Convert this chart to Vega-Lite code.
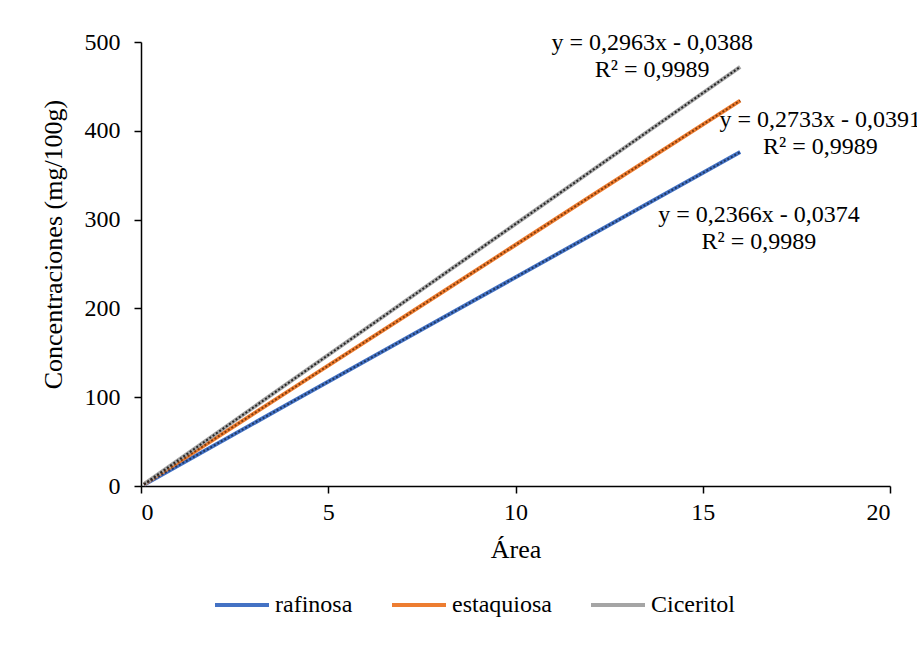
{
  "$schema": "https://vega.github.io/schema/vega-lite/v6.json",
  "autosize": {"type": "none"},
  "width": 749,
  "height": 444,
  "padding": {"left": 141, "top": 42, "right": 27, "bottom": 166},
  "background": "white",
  "config": {
    "view": {"stroke": null},
    "font": "Liberation Serif",
    "axis": {
      "grid": false,
      "domainColor": "black",
      "domainWidth": 1.5,
      "tickColor": "black",
      "tickWidth": 1.5,
      "tickSize": 7,
      "labelFont": "Liberation Serif",
      "labelFontSize": 24,
      "labelColor": "black",
      "titleFont": "Liberation Serif",
      "titleFontSize": 26,
      "titleFontWeight": "normal",
      "titleColor": "black"
    },
    "legend": {
      "labelFont": "Liberation Serif",
      "labelFontSize": 24,
      "labelColor": "black"
    }
  },
  "datasets": {
    "series": [
      {"area": 0.08, "conc": 1.5, "azucar": "rafinosa"},
      {"area": 4, "conc": 94, "azucar": "rafinosa"},
      {"area": 8, "conc": 188, "azucar": "rafinosa"},
      {"area": 12, "conc": 282, "azucar": "rafinosa"},
      {"area": 16, "conc": 376, "azucar": "rafinosa"},
      {"area": 0.08, "conc": 1.8, "azucar": "estaquiosa"},
      {"area": 4, "conc": 108.5, "azucar": "estaquiosa"},
      {"area": 8, "conc": 217, "azucar": "estaquiosa"},
      {"area": 12, "conc": 326, "azucar": "estaquiosa"},
      {"area": 16, "conc": 434, "azucar": "estaquiosa"},
      {"area": 0.08, "conc": 2, "azucar": "Ciceritol"},
      {"area": 4, "conc": 118, "azucar": "Ciceritol"},
      {"area": 8, "conc": 236, "azucar": "Ciceritol"},
      {"area": 12, "conc": 354, "azucar": "Ciceritol"},
      {"area": 16, "conc": 472, "azucar": "Ciceritol"}
    ],
    "labels": [
      {"area": 13.65, "conc": 499, "t": "y = 0,2963x - 0,0388"},
      {"area": 13.65, "conc": 469, "t": "R² = 0,9989"},
      {"area": 18.14, "conc": 412, "t": "y = 0,2733x - 0,0391"},
      {"area": 18.14, "conc": 382, "t": "R² = 0,9989"},
      {"area": 16.5, "conc": 305, "t": "y = 0,2366x - 0,0374"},
      {"area": 16.5, "conc": 275, "t": "R² = 0,9989"}
    ]
  },
  "layer": [
    {
      "data": {"name": "series"},
      "mark": {"type": "line", "strokeWidth": 4, "clip": false},
      "encoding": {
        "x": {
          "field": "area", "type": "quantitative",
          "scale": {"domain": [0, 20], "nice": false},
          "axis": {"values": [0, 5, 10, 15, 20], "title": "Área", "labelPadding": 7, "titlePadding": 12}
        },
        "y": {
          "field": "conc", "type": "quantitative",
          "scale": {"domain": [0, 500], "nice": false},
          "axis": {"values": [0, 100, 200, 300, 400, 500], "title": "Concentraciones (mg/100g)", "labelPadding": 14, "titlePadding": 18, "titleY": 202}
        },
        "color": {
          "field": "azucar", "type": "nominal",
          "scale": {"domain": ["rafinosa", "estaquiosa", "Ciceritol"], "range": ["#4472C4", "#ED7D31", "#A5A5A5"]},
          "legend": {
            "title": null,
            "orient": "none",
            "direction": "horizontal",
            "legendX": 72,
            "legendY": 534,
            "symbolType": "stroke",
            "symbolSize": 2916,
            "symbolStrokeWidth": 4,
            "labelOffset": 4,
            "columnPadding": 31
          }
        }
      }
    },
    {
      "data": {"name": "series"},
      "mark": {"type": "line", "strokeWidth": 2, "strokeDash": [2, 2], "clip": false},
      "encoding": {
        "x": {"field": "area", "type": "quantitative"},
        "y": {"field": "conc", "type": "quantitative"},
        "stroke": {
          "field": "azucar", "type": "nominal",
          "scale": {"domain": ["rafinosa", "estaquiosa", "Ciceritol"], "range": ["#1F3864", "#843C0C", "#262626"]},
          "legend": null
        }
      }
    },
    {
      "data": {"name": "labels"},
      "mark": {"type": "text", "font": "Liberation Serif", "fontSize": 24, "color": "black", "align": "center", "baseline": "middle", "clip": false},
      "encoding": {
        "x": {"field": "area", "type": "quantitative"},
        "y": {"field": "conc", "type": "quantitative"},
        "text": {"field": "t"}
      }
    }
  ]
}
